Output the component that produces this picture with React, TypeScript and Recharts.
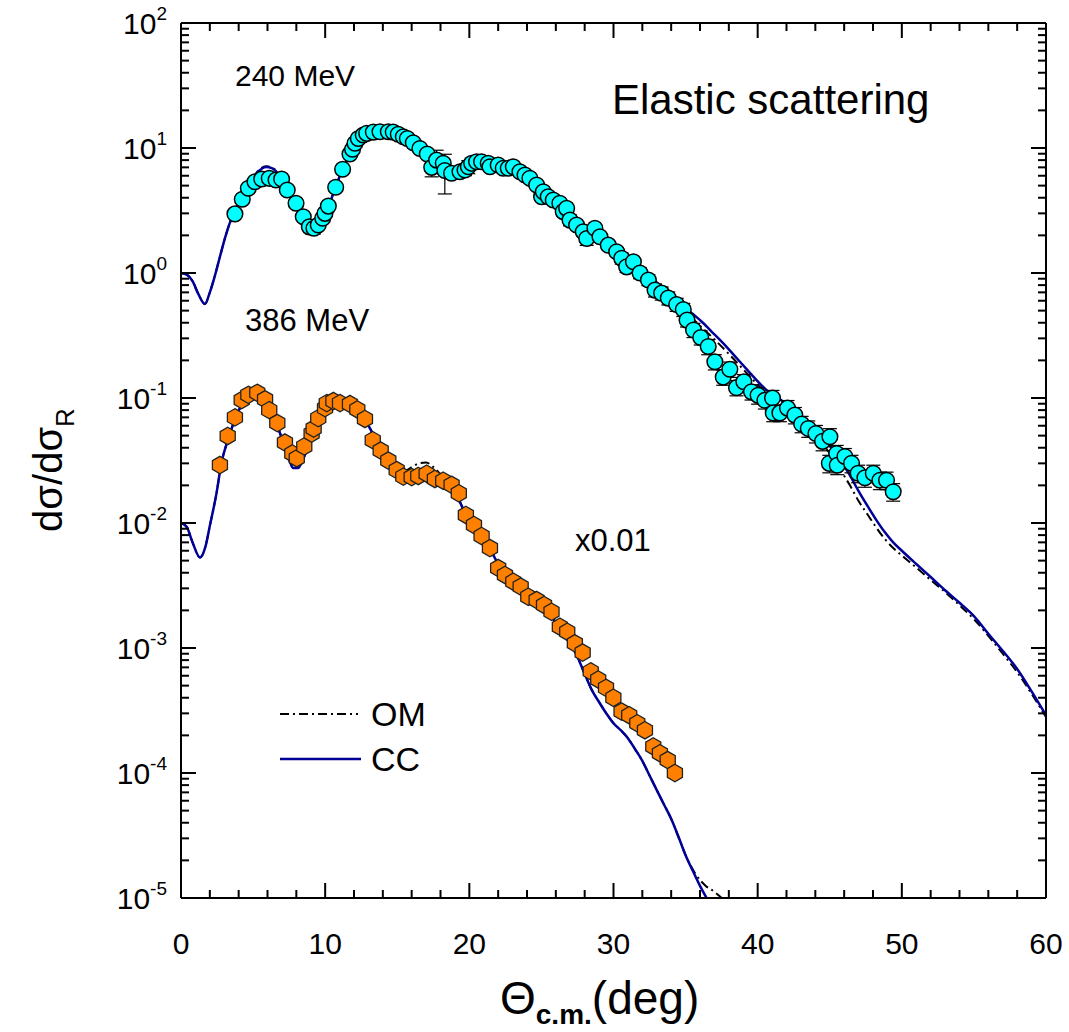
import React from "react";
import { ComposedChart, Line, Scatter, XAxis, YAxis, ErrorBar, ReferenceLine } from "recharts";

const FONT = "'Liberation Sans', Arial, Helvetica, sans-serif";
const CHART_W = 1069;
const CHART_H = 1032;
const PLOT_LEFT = 181;
const PLOT_TOP = 23;
const PLOT_W = 865;
const PLOT_H = 875;
const YAXIS_W = 80;
const XAXIS_H = 60;

const CYAN = "#00FFFF";
const ORANGE = "#FF8000";
const NAVY = "#000099";

// 240 MeV data: [angle, dsigma/dsigmaR, relative error]
const DATA_240: [number, number, number][] = [
  [3.74, 2.97, 0.04], [4.25, 3.89, 0.04], [4.67, 4.76, 0.04], [5.13, 5.37, 0.04],
  [5.6, 5.65, 0.04], [6.12, 5.72, 0.04], [6.59, 5.55, 0.04], [6.98, 5.65, 0.04],
  [7.37, 4.61, 0.04], [7.98, 3.61, 0.04], [8.48, 2.82, 0.05], [8.9, 2.34, 0.06],
  [9.22, 2.28, 0.1], [9.52, 2.42, 0.06], [9.83, 2.74, 0.05], [9.99, 3.0, 0.05],
  [10.22, 3.43, 0.04], [10.73, 4.85, 0.04], [11.21, 6.76, 0.04], [11.72, 8.96, 0.04],
  [11.9, 9.77, 0.04], [12.07, 10.9, 0.04], [12.3, 11.9, 0.04], [12.64, 12.7, 0.04],
  [12.88, 13.1, 0.04], [13.34, 13.4, 0.04], [13.8, 13.5, 0.04], [14.38, 13.5, 0.04],
  [14.72, 13.4, 0.04], [15.07, 12.9, 0.04], [15.42, 12.3, 0.04], [15.7, 11.9, 0.04],
  [16.11, 11.0, 0.04], [16.57, 9.9, 0.05], [17.08, 8.96, 0.06], [17.39, 7.0, 0.16],
  [17.73, 8.0, 0.2], [18.19, 7.54, 0.08], [18.3, 6.6, 0.35], [18.77, 6.28, 0.1],
  [19.35, 6.46, 0.1], [19.7, 6.67, 0.1], [19.93, 7.08, 0.12], [20.16, 7.54, 0.1],
  [20.5, 7.76, 0.08], [20.85, 7.76, 0.06], [21.31, 7.54, 0.06], [21.43, 7.08, 0.06],
  [22.0, 7.31, 0.05], [22.35, 6.88, 0.05], [22.7, 6.88, 0.05], [23.05, 7.08, 0.05],
  [23.51, 6.46, 0.05], [23.86, 6.08, 0.05], [24.2, 5.72, 0.05], [24.67, 5.06, 0.05],
  [25.01, 4.07, 0.06], [25.13, 4.47, 0.05], [25.47, 4.07, 0.05], [25.82, 3.84, 0.05],
  [26.28, 3.61, 0.05], [26.51, 3.1, 0.08], [26.75, 3.29, 0.05], [26.98, 2.65, 0.1],
  [27.44, 2.42, 0.06], [27.9, 2.14, 0.08], [28.14, 1.89, 0.12], [28.71, 2.28, 0.06],
  [29.06, 1.95, 0.08], [29.64, 1.67, 0.08], [30.22, 1.48, 0.08], [30.57, 1.31, 0.1],
  [30.91, 1.12, 0.1], [31.38, 1.23, 0.08], [31.84, 1.0, 0.1], [32.42, 0.88, 0.1],
  [32.88, 0.73, 0.12], [33.34, 0.69, 0.12], [33.8, 0.63, 0.12], [34.38, 0.56, 0.12],
  [34.84, 0.51, 0.12], [35.1, 0.42, 0.12], [35.55, 0.35, 0.13], [36.05, 0.305, 0.13],
  [36.57, 0.258, 0.14], [37.03, 0.195, 0.14], [37.61, 0.147, 0.14], [38.07, 0.17, 0.14],
  [38.53, 0.121, 0.14], [39.04, 0.135, 0.14], [39.57, 0.112, 0.14], [40.03, 0.105, 0.15],
  [40.5, 0.096, 0.15], [41.03, 0.1, 0.15], [41.08, 0.076, 0.15], [41.54, 0.076, 0.15],
  [42.07, 0.083, 0.15], [42.58, 0.073, 0.15], [43.05, 0.062, 0.15], [43.51, 0.057, 0.15],
  [44.04, 0.052, 0.16], [44.5, 0.045, 0.16], [45.01, 0.049, 0.16], [44.97, 0.03, 0.16],
  [45.48, 0.036, 0.16], [45.52, 0.029, 0.16], [46.05, 0.034, 0.16], [46.51, 0.03, 0.16],
  [46.97, 0.025, 0.16], [47.44, 0.023, 0.16], [48.02, 0.025, 0.16], [48.48, 0.022, 0.16],
  [48.94, 0.022, 0.16], [49.4, 0.0178, 0.16],
];

// 386 MeV data (x0.01): [angle, value]
const DATA_386: [number, number][] = [
  [2.7, 0.0291], [3.24, 0.0497], [3.74, 0.07], [4.21, 0.0964], [4.67, 0.106],
  [5.29, 0.11], [5.83, 0.0977], [6.12, 0.08], [6.68, 0.063], [7.21, 0.044],
  [7.72, 0.036], [8.03, 0.033], [8.55, 0.041], [9.06, 0.052], [9.2, 0.057],
  [9.52, 0.069], [9.99, 0.083], [10.11, 0.091], [10.57, 0.0946], [11.03, 0.091],
  [11.72, 0.0895], [12.23, 0.081], [12.76, 0.068], [13.3, 0.046], [13.85, 0.038],
  [14.38, 0.0316], [14.96, 0.0265], [15.42, 0.0235], [16.0, 0.0233], [16.46, 0.0238],
  [17.04, 0.0248], [17.61, 0.0225], [18.19, 0.0218], [18.77, 0.0202], [19.27, 0.0173],
  [19.76, 0.0116], [20.32, 0.00964], [20.85, 0.00787], [21.43, 0.0063], [22.0, 0.00436],
  [22.47, 0.00384], [23.05, 0.00339], [23.56, 0.0031], [24.09, 0.00257], [24.67, 0.00242],
  [25.18, 0.00221], [25.7, 0.00195], [26.28, 0.00148], [26.79, 0.00135], [27.32, 0.00109],
  [27.86, 0.00092], [28.42, 0.00065], [28.94, 0.00056], [29.48, 0.00048], [29.99, 0.0004],
  [30.56, 0.00031], [31.09, 0.00029], [31.65, 0.00025], [32.18, 0.00022], [32.76, 0.000163],
  [33.22, 0.000144], [33.76, 0.000127], [34.26, 0.0001],
];

// calculated curves
const CC_240: [number, number][] = [
  [0, 1.0], [0.4, 0.97], [0.8, 0.86], [1.2, 0.68], [1.66, 0.565], [2.0, 0.7], [2.35, 0.95],
  [2.7, 1.35], [3.05, 1.9], [3.4, 2.54], [3.8, 3.25], [4.3, 4.3], [4.8, 5.4], [5.3, 6.4],
  [5.9, 7.05], [6.3, 6.9], [6.7, 6.3], [7.1, 5.4], [7.6, 4.2], [8.1, 3.25], [8.6, 2.6],
  [9.0, 2.27], [9.35, 2.2], [9.8, 2.5], [10.2, 3.3], [10.7, 4.8], [11.2, 6.7], [11.7, 8.7],
  [12.2, 10.6], [12.8, 12.4], [13.4, 13.4], [14.0, 13.7], [14.6, 13.4], [15.2, 12.6],
  [15.8, 11.4], [16.4, 10.1], [17.0, 8.9], [17.6, 8.0], [18.2, 7.3], [18.8, 7.0], [19.4, 7.0],
  [20.0, 7.2], [20.6, 7.4], [21.2, 7.5], [21.8, 7.4], [22.4, 7.15], [23.0, 6.8], [23.6, 6.3],
  [24.2, 5.7], [24.8, 5.05], [25.4, 4.4], [26.0, 3.8], [26.6, 3.25], [27.2, 2.8], [27.8, 2.4],
  [28.4, 2.1], [29.0, 1.85], [29.6, 1.65], [30.2, 1.48], [30.8, 1.33], [31.4, 1.2],
  [32.0, 1.06], [32.6, 0.93], [33.2, 0.8], [33.8, 0.69], [34.4, 0.59], [35.0, 0.52],
  [35.6, 0.46], [36.2, 0.4], [36.8, 0.34], [37.4, 0.29], [38.0, 0.245], [38.6, 0.205],
  [39.2, 0.172], [39.8, 0.144], [40.4, 0.122], [41.0, 0.106], [41.6, 0.097], [42.2, 0.084],
  [42.8, 0.072], [43.4, 0.061], [44.0, 0.052], [44.6, 0.045], [45.2, 0.039], [45.8, 0.031],
  [46.4, 0.024], [47.0, 0.018], [47.6, 0.0138], [48.2, 0.0107], [48.8, 0.0085], [49.4, 0.007],
  [50, 0.006], [51, 0.0047], [52, 0.0037], [53, 0.0029], [54, 0.0023], [55, 0.0018],
  [56, 0.0013], [57, 0.00095], [58, 0.00068], [59, 0.00045], [60, 0.00029],
];

const OM_240: [number, number][] = [
  [0, 1.0], [0.4, 0.97], [0.8, 0.86], [1.2, 0.68], [1.66, 0.565], [2.0, 0.7], [2.35, 0.95],
  [2.7, 1.35], [3.05, 1.9], [3.4, 2.54], [3.8, 3.25], [4.3, 4.35], [4.8, 5.5], [5.3, 6.5],
  [5.9, 7.15], [6.3, 7.0], [6.7, 6.4], [7.1, 5.45], [7.6, 4.2], [8.1, 3.25], [8.6, 2.6],
  [9.0, 2.27], [9.35, 2.2], [9.8, 2.5], [10.2, 3.3], [10.7, 4.8], [11.2, 6.7], [11.7, 8.7],
  [12.2, 10.6], [12.8, 12.4], [13.4, 13.4], [14.0, 13.7], [14.6, 13.4], [15.2, 12.6],
  [15.8, 11.4], [16.4, 10.1], [17.0, 8.9], [17.6, 8.0], [18.2, 7.3], [18.8, 7.0], [19.4, 7.0],
  [20.0, 7.2], [20.6, 7.4], [21.2, 7.5], [21.8, 7.4], [22.4, 7.15], [23.0, 6.8], [23.6, 6.3],
  [24.2, 5.7], [24.8, 5.05], [25.4, 4.4], [26.0, 3.8], [26.6, 3.25], [27.2, 2.8], [27.8, 2.4],
  [28.4, 2.1], [29.0, 1.85], [29.6, 1.65], [30.2, 1.47], [30.8, 1.31], [31.4, 1.17],
  [32.0, 1.03], [32.6, 0.9], [33.2, 0.77], [33.8, 0.66], [34.4, 0.57], [35.0, 0.49],
  [35.6, 0.42], [36.2, 0.36], [36.8, 0.31], [37.4, 0.265], [38.0, 0.225], [38.6, 0.19],
  [39.2, 0.16], [39.8, 0.135], [40.4, 0.115], [41.0, 0.1], [41.6, 0.09], [42.2, 0.079],
  [42.8, 0.068], [43.4, 0.058], [44.0, 0.049], [44.6, 0.041], [45.2, 0.034], [45.8, 0.026],
  [46.4, 0.02], [47.0, 0.015], [47.6, 0.0118], [48.2, 0.0093], [48.8, 0.0075], [49.4, 0.0063],
  [50, 0.0055], [51, 0.0044], [52, 0.0035], [53, 0.0028], [54, 0.0022], [55, 0.0017],
  [56, 0.00125], [57, 0.0009], [58, 0.00064], [59, 0.00043], [60, 0.00028],
];

const CC_386: [number, number][] = [
  [0, 0.01], [0.4, 0.0093], [0.8, 0.007], [1.32, 0.0053], [1.7, 0.0065], [2.0, 0.0095],
  [2.47, 0.0175], [2.8, 0.03], [3.3, 0.048], [3.8, 0.07], [4.3, 0.092], [4.8, 0.108],
  [5.3, 0.113], [5.8, 0.1], [6.3, 0.078], [6.8, 0.055], [7.3, 0.038], [7.8, 0.0275],
  [8.1, 0.0275], [8.5, 0.033], [9.0, 0.047], [9.5, 0.064], [10.0, 0.08], [10.5, 0.092],
  [11.0, 0.095], [11.5, 0.092], [12.0, 0.085], [12.5, 0.074], [13.0, 0.06], [13.5, 0.047],
  [14.0, 0.037], [14.5, 0.031], [15.0, 0.027], [15.5, 0.025], [16.0, 0.025], [16.5, 0.026],
  [17.0, 0.027], [17.5, 0.026], [18.0, 0.024], [18.5, 0.021], [19.0, 0.018], [19.5, 0.0135],
  [20.0, 0.0105], [20.5, 0.0088], [21.0, 0.0074], [21.5, 0.006], [22.0, 0.0047],
  [22.5, 0.0039], [23.0, 0.0034], [23.5, 0.003], [24.0, 0.0027], [24.5, 0.0024],
  [25.0, 0.0022], [25.5, 0.0019], [26.0, 0.0016], [26.5, 0.0013], [27.0, 0.00108],
  [27.44, 0.00088], [28.0, 0.00062], [28.5, 0.00046], [29.06, 0.00036], [29.5, 0.0003],
  [30.0, 0.00025], [30.5, 0.00022], [31.0, 0.00019], [31.5, 0.000155], [32.0, 0.000125],
  [32.5, 0.0000955], [33.0, 0.000073], [33.5, 0.000056], [34.0, 0.000043], [34.5, 0.000031],
  [35.0, 0.000022], [35.5, 0.0000165], [36.0, 0.0000125], [36.5, 0.0000098],
];

const OM_386: [number, number][] = [
  [0, 0.01], [0.4, 0.0093], [0.8, 0.007], [1.32, 0.0053], [1.7, 0.0065], [2.0, 0.0095],
  [2.47, 0.0175], [2.8, 0.03], [3.3, 0.048], [3.8, 0.07], [4.3, 0.092], [4.8, 0.108],
  [5.3, 0.113], [5.8, 0.1], [6.3, 0.078], [6.8, 0.055], [7.3, 0.038], [7.8, 0.0275],
  [8.1, 0.0275], [8.5, 0.033], [9.0, 0.047], [9.5, 0.064], [10.0, 0.08], [10.5, 0.092],
  [11.0, 0.095], [11.5, 0.092], [12.0, 0.085], [12.5, 0.074], [13.0, 0.06], [13.5, 0.047],
  [14.0, 0.037], [14.5, 0.031], [15.0, 0.027], [15.5, 0.026], [16.0, 0.028], [16.5, 0.03],
  [17.0, 0.0305], [17.5, 0.028], [18.0, 0.0245], [18.5, 0.021], [19.0, 0.018], [19.5, 0.0135],
  [20.0, 0.0105], [20.5, 0.0088], [21.0, 0.0074], [21.5, 0.006], [22.0, 0.0047],
  [22.5, 0.0039], [23.0, 0.0034], [23.5, 0.003], [24.0, 0.0027], [24.5, 0.0024],
  [25.0, 0.0022], [25.5, 0.0019], [26.0, 0.0016], [26.5, 0.0013], [27.0, 0.00108],
  [27.44, 0.00088], [28.0, 0.00062], [28.5, 0.00046], [29.06, 0.00036], [29.5, 0.0003],
  [30.0, 0.00025], [30.5, 0.00022], [31.0, 0.00019], [31.5, 0.000155], [32.0, 0.000125],
  [32.5, 0.0000955], [33.0, 0.000073], [33.5, 0.000056], [34.0, 0.000043], [34.5, 0.000031],
  [35.0, 0.000022], [35.7, 0.0000155], [36.4, 0.0000125], [37.0, 0.0000112], [37.6, 0.0000098],
];

const X_TICKS = [0, 2, 4, 6, 8, 10, 12, 14, 16, 18, 20, 22, 24, 26, 28, 30, 32, 34, 36, 38, 40,
  42, 44, 46, 48, 50, 52, 54, 56, 58, 60];
const Y_DECADES = [1e-5, 1e-4, 1e-3, 1e-2, 1e-1, 1, 10, 100];
const Y_MINOR = [2, 3, 4, 5, 6, 7, 8, 9];
const Y_TICKS = Y_DECADES.flatMap((d) => (d < 100 ? [d, ...Y_MINOR.map((m) => m * d)] : [d]));

const toPts = (arr: [number, number][]) => arr.map(([x, y]) => ({ x, y }));
const pts240 = DATA_240.map(([x, y, r]) => ({ x, y, err: [y * r, y * r] }));
const pts386 = toPts(DATA_386);

function XTick(props: any) {
  const { x, y, payload } = props;
  const v = payload.value as number;
  const major = v % 10 === 0;
  const len = major ? 15 : 8;
  return (
    <g>
      <line x1={x} y1={y} x2={x} y2={y - len} stroke="#000" strokeWidth={2} />
      <line x1={x} y1={y - PLOT_H} x2={x} y2={y - PLOT_H + len} stroke="#000" strokeWidth={2} />
      {major && (
        <text x={x} y={y + 56} textAnchor="middle" fontSize={30} fontFamily={FONT} fill="#000">
          {v}
        </text>
      )}
    </g>
  );
}

function YTick(props: any) {
  const { x, y, payload } = props;
  const v = payload.value as number;
  const lg = Math.log10(v);
  const e = Math.round(lg);
  const major = Math.abs(lg - e) < 1e-6;
  const len = major ? 15 : 8;
  return (
    <g>
      <line x1={x} y1={y} x2={x + len} y2={y} stroke="#000" strokeWidth={2} />
      <line x1={x + PLOT_W} y1={y} x2={x + PLOT_W - len} y2={y} stroke="#000" strokeWidth={2} />
      {major && (
        <text x={x - 14} y={y + 11} textAnchor="end" fontSize={30} fontFamily={FONT} fill="#000">
          10
          <tspan dy={-14} fontSize={19}>{e}</tspan>
        </text>
      )}
    </g>
  );
}

function Circle(props: any) {
  const { cx, cy } = props;
  return <circle cx={cx} cy={cy} r={7.8} fill={CYAN} stroke="#000" strokeWidth={1.5} />;
}

function Hexagon(props: any) {
  const { cx, cy } = props;
  const r = 8.7;
  const pts = [0, 1, 2, 3, 4, 5]
    .map((i) => {
      const a = (Math.PI / 3) * i - Math.PI / 2;
      return `${cx + r * Math.cos(a)},${cy + r * Math.sin(a)}`;
    })
    .join(" ");
  return <polygon points={pts} fill={ORANGE} stroke="#222" strokeWidth={1.3} />;
}

export default function App() {
  return (
    <div style={{ position: "absolute", left: 0, top: 0, width: CHART_W, height: CHART_H, background: "#fff" }}>
      <ComposedChart
        width={CHART_W}
        height={CHART_H}
        margin={{
          top: PLOT_TOP,
          right: CHART_W - PLOT_LEFT - PLOT_W,
          bottom: CHART_H - PLOT_TOP - PLOT_H - XAXIS_H,
          left: PLOT_LEFT - YAXIS_W,
        }}
        style={{ fontFamily: FONT }}
      >
        <XAxis
          type="number"
          dataKey="x"
          domain={[0, 60]}
          ticks={X_TICKS}
          interval={0}
          allowDataOverflow
          height={XAXIS_H}
          tickSize={0}
          tickMargin={0}
          tickLine={false}
          axisLine={{ stroke: "#000", strokeWidth: 2 }}
          tick={<XTick />}
        />
        <YAxis
          type="number"
          dataKey="y"
          scale="log"
          domain={[1e-5, 100]}
          ticks={Y_TICKS}
          interval={0}
          allowDataOverflow
          width={YAXIS_W}
          tickSize={0}
          tickMargin={0}
          tickLine={false}
          axisLine={{ stroke: "#000", strokeWidth: 2 }}
          tick={<YTick />}
        />
        <ReferenceLine y={100} stroke="#000" strokeWidth={2} />
        <ReferenceLine x={60} stroke="#000" strokeWidth={2} />

        <Line data={toPts(OM_240)} dataKey="y" type="monotone" stroke="#000" strokeWidth={2}
          strokeDasharray="9 4 2 4" dot={false} isAnimationActive={false} />
        <Line data={toPts(CC_240)} dataKey="y" type="monotone" stroke={NAVY} strokeWidth={2.5}
          dot={false} isAnimationActive={false} />
        <Line data={toPts(OM_386)} dataKey="y" type="monotone" stroke="#000" strokeWidth={2}
          strokeDasharray="9 4 2 4" dot={false} isAnimationActive={false} />
        <Line data={toPts(CC_386)} dataKey="y" type="monotone" stroke={NAVY} strokeWidth={2.5}
          dot={false} isAnimationActive={false} />

        <Scatter data={pts240} dataKey="y" shape={<Circle />} isAnimationActive={false}>
          <ErrorBar dataKey="err" direction="y" width={7} stroke="#000" strokeWidth={1.2} />
        </Scatter>
        <Scatter data={pts386} dataKey="y" shape={<Hexagon />} isAnimationActive={false} />

        {/* annotations */}
        <text x={235} y={86} fontSize={30} fontFamily={FONT}>240 MeV</text>
        <text x={245} y={331} fontSize={31} fontFamily={FONT}>386 MeV</text>
        <text x={575} y={551} fontSize={31} fontFamily={FONT}>x0.01</text>
        <text x={612} y={114} fontSize={42} fontFamily={FONT}>Elastic scattering</text>

        {/* legend */}
        <line x1={280} y1={714} x2={358} y2={714} stroke="#000" strokeWidth={2} strokeDasharray="9 4 2 4" />
        <text x={371} y={726} fontSize={34} fontFamily={FONT}>OM</text>
        <line x1={280} y1={759} x2={361} y2={759} stroke={NAVY} strokeWidth={2.5} />
        <text x={371} y={771} fontSize={34} fontFamily={FONT}>CC</text>

        {/* axis titles */}
        <text transform="rotate(-90)" x={-470} y={62} textAnchor="middle" fontSize={40} fontFamily={FONT}>
          dσ/dσ<tspan dy={12} fontSize={26}>R</tspan>
        </text>
        <text x={500} y={1014} fontSize={46} fontFamily={FONT}>
          Θ<tspan dy={10} fontSize={28} fontWeight="bold">c.m.</tspan>
          <tspan dy={-10}>(deg)</tspan>
        </text>
      </ComposedChart>
    </div>
  );
}
